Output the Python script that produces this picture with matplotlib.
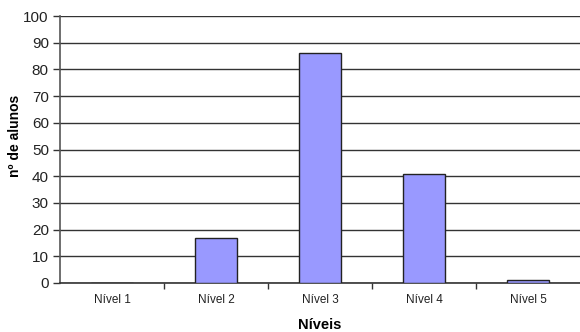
import matplotlib
matplotlib.use('Agg')
from matplotlib import pyplot as plt
import numpy as np

niveis = ['Nível 1', 'Nível 2', 'Nível 3', 'Nível 4', 'Nível 5']
alunos = [0, 17, 86, 41, 1]

plt.rcParams['font.family'] = ['Liberation Sans', 'DejaVu Sans']

fig = plt.figure(figsize=(5.8, 3.32), dpi=100)
ax = fig.add_axes([0.1034, 0.1476, 0.897, 0.804])

x = np.arange(len(niveis))
ax.bar(x, alunos, width=0.4, color='#9999FF', edgecolor='#222222', linewidth=1.0, zorder=3)

ax.set_ylim(0, 100)
ax.set_xlim(-0.5, len(niveis) - 0.5)
ax.set_yticks(np.arange(0, 101, 10))
ax.yaxis.grid(True, color='#333333', linewidth=1.0, zorder=0)

# category labels centred, tick marks at category boundaries
ax.set_xticks(x)
ax.set_xticklabels(niveis, fontsize=8.5, color='#222222')
ax.set_xticks(np.arange(0.5, len(niveis) - 0.5, 1), minor=True)
ax.tick_params(axis='x', which='major', length=0, pad=8)
ax.tick_params(axis='x', which='minor', length=4, width=1, color='#333333', direction='out')
ax.tick_params(axis='y', length=5, width=1, color='#333333', labelsize=11, labelcolor='#222222', pad=3)

for side in ['top', 'right']:
    ax.spines[side].set_visible(False)
ax.spines['left'].set_color('#555555')
ax.spines['left'].set_linewidth(1.2)
ax.spines['bottom'].set_color('#333333')
ax.spines['bottom'].set_linewidth(1.2)

ax.set_ylabel('nº de alunos', fontsize=10, fontweight='bold')
ax.yaxis.set_label_coords(-0.073, 0.55)
ax.set_xlabel('Níveis', fontsize=10.5, fontweight='bold')
ax.xaxis.set_label_coords(0.5, -0.13)

fig.savefig('out.png', dpi=100)
